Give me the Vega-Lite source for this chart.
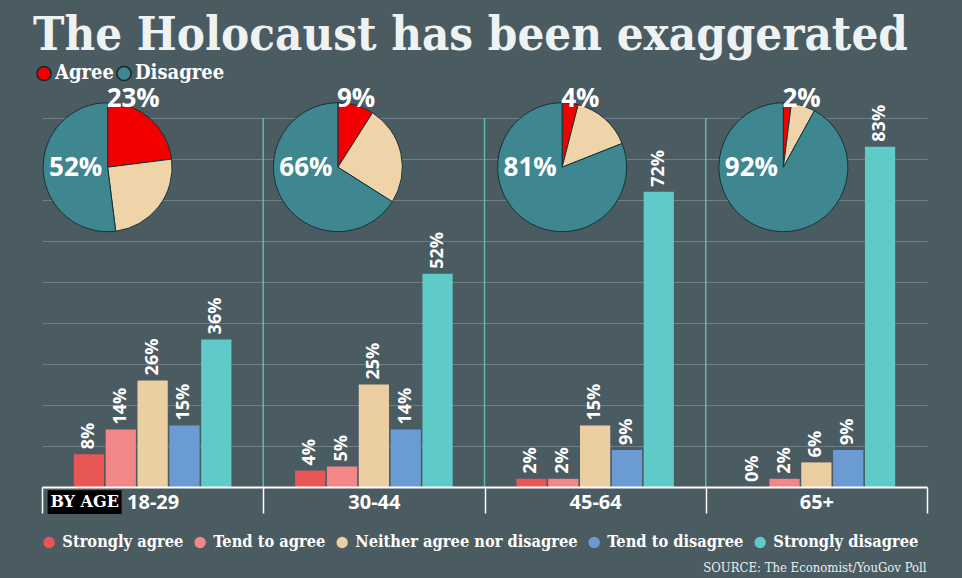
{
  "$schema": "https://vega.github.io/schema/vega-lite/v6.json",
  "width": 885,
  "height": 369,
  "autosize": {"type": "none"},
  "padding": {"left": 42, "top": 118, "right": 35, "bottom": 91},
  "background": "#4a5b61",
  "title": {
    "text": "The Holocaust has been exaggerated",
    "anchor": "start",
    "frame": "group",
    "font": "DejaVu Serif Condensed, DejaVu Serif",
    "fontSize": 47,
    "fontWeight": "bold",
    "color": "#eef2f3",
    "dx": -9,
    "dy": -3,
    "offset": 0
  },
  "config": {"view": {"stroke": null}},
  "datasets": {
    "bars": [
      {"age": "18-29", "response": "Strongly agree", "value": 0.08},
      {"age": "18-29", "response": "Tend to agree", "value": 0.14},
      {"age": "18-29", "response": "Neither agree nor disagree", "value": 0.26},
      {"age": "18-29", "response": "Tend to disagree", "value": 0.15},
      {"age": "18-29", "response": "Strongly disagree", "value": 0.36},
      {"age": "30-44", "response": "Strongly agree", "value": 0.04},
      {"age": "30-44", "response": "Tend to agree", "value": 0.05},
      {"age": "30-44", "response": "Neither agree nor disagree", "value": 0.25},
      {"age": "30-44", "response": "Tend to disagree", "value": 0.14},
      {"age": "30-44", "response": "Strongly disagree", "value": 0.52},
      {"age": "45-64", "response": "Strongly agree", "value": 0.02},
      {"age": "45-64", "response": "Tend to agree", "value": 0.02},
      {"age": "45-64", "response": "Neither agree nor disagree", "value": 0.15},
      {"age": "45-64", "response": "Tend to disagree", "value": 0.09},
      {"age": "45-64", "response": "Strongly disagree", "value": 0.72},
      {"age": "65+", "response": "Strongly agree", "value": 0.0},
      {"age": "65+", "response": "Tend to agree", "value": 0.02},
      {"age": "65+", "response": "Neither agree nor disagree", "value": 0.06},
      {"age": "65+", "response": "Tend to disagree", "value": 0.09},
      {"age": "65+", "response": "Strongly disagree", "value": 0.83}
    ],
    "pies": [
      {"age": "18-29", "group": "Agree", "o": 1, "pct": 0.23},
      {"age": "18-29", "group": "Neither", "o": 2, "pct": 0.25},
      {"age": "18-29", "group": "Disagree", "o": 3, "pct": 0.52},
      {"age": "30-44", "group": "Agree", "o": 1, "pct": 0.09},
      {"age": "30-44", "group": "Neither", "o": 2, "pct": 0.25},
      {"age": "30-44", "group": "Disagree", "o": 3, "pct": 0.66},
      {"age": "45-64", "group": "Agree", "o": 1, "pct": 0.04},
      {"age": "45-64", "group": "Neither", "o": 2, "pct": 0.15},
      {"age": "45-64", "group": "Disagree", "o": 3, "pct": 0.81},
      {"age": "65+", "group": "Agree", "o": 1, "pct": 0.02},
      {"age": "65+", "group": "Neither", "o": 2, "pct": 0.06},
      {"age": "65+", "group": "Disagree", "o": 3, "pct": 0.92}
    ],
    "dividers": [{"age": "30-44"}, {"age": "45-64"}, {"age": "65+"}],
    "tag": [{"label": "BY AGE"}]
  },
  "layer": [
    {
      "data": {"name": "bars"},
      "mark": {"type": "bar"},
      "encoding": {
        "x": {
          "field": "age",
          "type": "nominal",
          "sort": ["18-29", "30-44", "45-64", "65+"],
          "scale": {"type": "band", "domain": ["18-29", "30-44", "45-64", "65+"], "paddingInner": 0, "paddingOuter": 0},
          "axis": {
            "orient": "bottom",
            "title": "SOURCE: The Economist/YouGov Poll",
            "titleFont": "DejaVu Serif Condensed, DejaVu Serif",
            "titleFontWeight": "normal",
            "titleFontSize": 13,
            "titleColor": "#e8eeef",
            "titleAlign": "right",
            "titleBaseline": "alphabetic",
            "titleX": 884,
            "titleY": 84,
            "domainColor": "white",
            "domainWidth": 2,
            "tickBand": "extent",
            "tickColor": "white",
            "tickSize": 26,
            "tickWidth": 1.5,
            "labelFont": "Open Sans",
            "labelFontWeight": "bold",
            "labelFontSize": 20,
            "labelColor": "white",
            "labelBaseline": "top",
            "labelPadding": -21,
            "labelAngle": 0,
            "grid": false,
            "zindex": 1
          }
        },
        "xOffset": {
          "field": "response",
          "type": "nominal",
          "scale": {
            "domain": ["Strongly agree", "Tend to agree", "Neither agree nor disagree", "Tend to disagree", "Strongly disagree"],
            "paddingInner": 0.05,
            "paddingOuter": 1.03
          }
        },
        "y": {
          "field": "value",
          "type": "quantitative",
          "scale": {"domain": [0, 0.9], "nice": false, "zero": true},
          "axis": {
            "orient": "left",
            "values": [0.1, 0.2, 0.3, 0.4, 0.5, 0.6, 0.7, 0.8, 0.9],
            "grid": true,
            "gridColor": "#b7c4c8",
            "gridOpacity": 0.35,
            "gridWidth": 1,
            "domain": false,
            "ticks": false,
            "labels": false,
            "title": null,
            "zindex": 0
          }
        },
        "color": {
          "field": "response",
          "type": "nominal",
          "scale": {
            "domain": ["Strongly agree", "Tend to agree", "Neither agree nor disagree", "Tend to disagree", "Strongly disagree"],
            "range": ["#e85656", "#f38787", "#ebcfa3", "#6a9bd2", "#5ecbc8"]
          },
          "legend": {
            "orient": "none",
            "legendX": -1,
            "legendY": 416,
            "direction": "horizontal",
            "title": null,
            "symbolType": "circle",
            "symbolSize": 130,
            "symbolStrokeWidth": 0,
            "labelFont": "DejaVu Serif Condensed, DejaVu Serif",
            "labelFontWeight": "bold",
            "labelFontSize": 16.3,
            "labelColor": "white",
            "columnPadding": 8,
            "labelOffset": 5,
            "labelLimit": 400
          }
        }
      }
    },
    {
      "data": {"name": "dividers"},
      "mark": {"type": "rule", "color": "#5fc9c6", "strokeWidth": 1.5, "opacity": 0.85},
      "encoding": {
        "x": {"field": "age", "type": "nominal", "bandPosition": 0},
        "y": {"datum": 0},
        "y2": {"datum": 0.9}
      }
    },
    {
      "data": {"name": "bars"},
      "mark": {"type": "text", "angle": 270, "align": "left", "baseline": "middle", "dx": 5, "font": "Open Sans", "fontWeight": "bold", "fontSize": 18, "color": "white"},
      "encoding": {
        "x": {"field": "age", "type": "nominal"},
        "xOffset": {"field": "response", "type": "nominal"},
        "y": {"field": "value", "type": "quantitative"},
        "text": {"field": "value", "type": "quantitative", "format": ".0%"}
      }
    },
    {
      "data": {"name": "pies"},
      "transform": [
        {"stack": "pct", "groupby": ["age"], "sort": [{"field": "o", "order": "ascending"}], "as": ["t0", "t1"]}
      ],
      "mark": {
        "type": "arc",
        "outerRadius": 64.5,
        "stroke": "#173238",
        "strokeWidth": 1,
        "xOffset": {"expr": "datum.age === '18-29' ? -45 : datum.age === '30-44' ? -36 : -33"}
      },
      "encoding": {
        "x": {"field": "age", "type": "nominal"},
        "y": {"datum": 0.78},
        "theta": {"field": "t0", "type": "quantitative", "stack": null, "scale": {"domain": [0, 1], "range": [0, 6.283185307]}},
        "theta2": {"field": "t1"},
        "color": {
          "field": "group",
          "type": "nominal",
          "scale": {"domain": ["Agree", "Neither", "Disagree"], "range": ["#f20000", "#efd3a9", "#3e8690"]},
          "legend": {
            "orient": "none",
            "legendX": -8,
            "legendY": -55,
            "direction": "horizontal",
            "title": null,
            "values": ["Agree", "Disagree"],
            "symbolType": "circle",
            "symbolSize": 200,
            "symbolStrokeColor": "#15272c",
            "symbolStrokeWidth": 1.5,
            "labelFont": "DejaVu Serif Condensed, DejaVu Serif",
            "labelFontWeight": "bold",
            "labelFontSize": 20,
            "labelColor": "white",
            "columnPadding": -2,
            "labelOffset": 1
          }
        }
      }
    },
    {
      "data": {"name": "pies"},
      "transform": [{"filter": "datum.group === 'Agree'"}],
      "mark": {
        "type": "text",
        "align": "left",
        "baseline": "alphabetic",
        "font": "Open Sans",
        "fontWeight": "bold",
        "fontSize": 26,
        "color": "white",
        "xOffset": {"expr": "datum.age === '18-29' ? -46 : datum.age === '30-44' ? -37 : -34"}
      },
      "encoding": {
        "x": {"field": "age", "type": "nominal"},
        "y": {"datum": 0.927},
        "text": {"field": "pct", "type": "quantitative", "format": ".0%"}
      }
    },
    {
      "data": {"name": "pies"},
      "transform": [{"filter": "datum.group === 'Disagree'"}],
      "mark": {
        "type": "text",
        "align": "center",
        "baseline": "middle",
        "dy": 1,
        "font": "Open Sans",
        "fontWeight": "bold",
        "fontSize": 26,
        "color": "white",
        "xOffset": {"expr": "datum.age === '18-29' ? -77 : datum.age === '30-44' ? -68 : -65"}
      },
      "encoding": {
        "x": {"field": "age", "type": "nominal"},
        "y": {"datum": 0.78},
        "text": {"field": "pct", "type": "quantitative", "format": ".0%"}
      }
    },
    {
      "data": {"name": "tag"},
      "mark": {"type": "bar", "color": "black", "width": 74, "xOffset": -68},
      "encoding": {
        "x": {"datum": "18-29"},
        "y": {"datum": -0.008},
        "y2": {"datum": -0.066}
      }
    },
    {
      "data": {"name": "tag"},
      "mark": {"type": "text", "align": "center", "baseline": "middle", "xOffset": -68, "font": "DejaVu Serif", "fontWeight": "bold", "fontSize": 16, "color": "white"},
      "encoding": {
        "x": {"datum": "18-29"},
        "y": {"datum": -0.037},
        "text": {"field": "label"}
      }
    }
  ],
  "resolve": {"scale": {"color": "independent"}, "legend": {"color": "independent"}}
}
